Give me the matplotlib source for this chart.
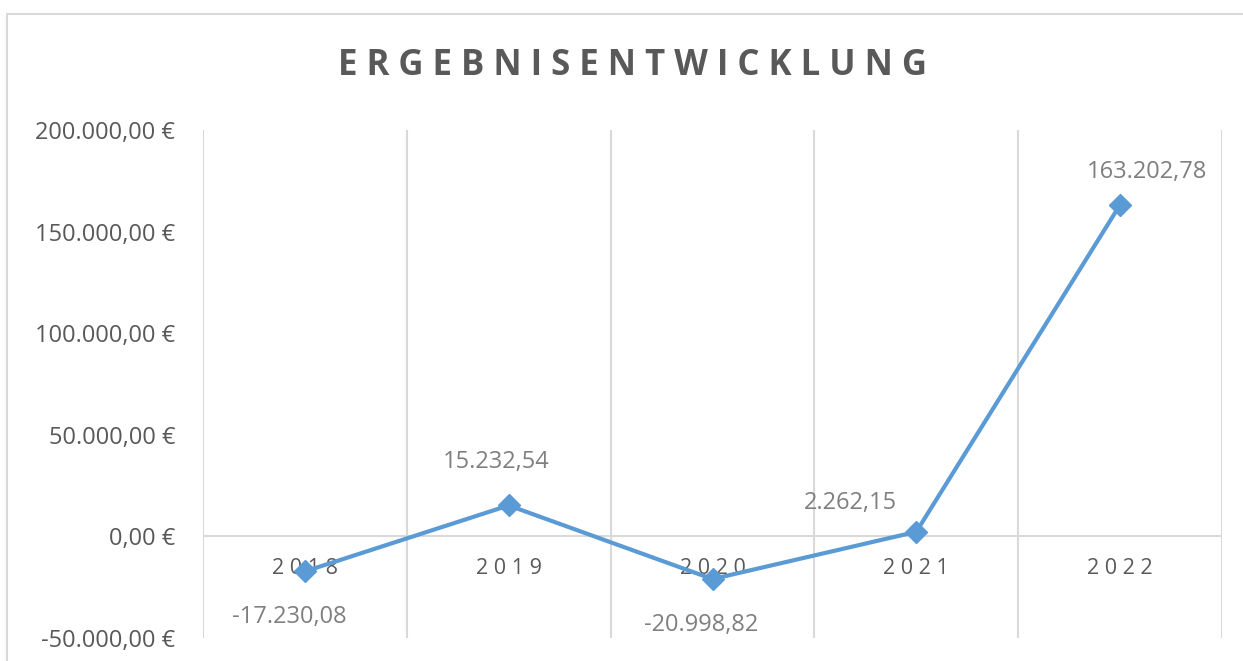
import matplotlib.pyplot as plt
from matplotlib.patches import Rectangle

# Daten
jahre = ["2018", "2019", "2020", "2021", "2022"]
ergebnis = [-17230.08, 15232.54, -20998.82, 2262.15, 163202.78]
y_ticks = [-50000, 0, 50000, 100000, 150000, 200000]

LINIE = "#5B9BD5"
GRAU = "#595959"
LABEL_GRAU = "#7F7F7F"
GITTER = "#D9D9D9"

plt.rcParams['font.family'] = ['Open Sans', 'DejaVu Sans']


def de_zahl(v, euro=False):
    s = f"{v:,.2f}".replace(",", "X").replace(".", ",").replace("X", ".")
    return s + " €" if euro else s


fig = plt.figure(figsize=(12.43, 6.61), dpi=100)
# Diagrammrahmen
fig.patches.append(Rectangle((7 / 1243, -0.05), 1.05, 1 - 14 / 661 + 0.05,
                             transform=fig.transFigure, fill=False,
                             edgecolor=GITTER, linewidth=1.5))

ax = fig.add_axes([203 / 1243, 1 - 638 / 661, 1019 / 1243, 508 / 661])
x = list(range(len(jahre)))
ax.plot(x, ergebnis, color=LINIE, linewidth=3, marker="D", markersize=11, zorder=3)

ax.set_xlim(-0.5, len(jahre) - 0.5)
ax.set_ylim(y_ticks[0], y_ticks[-1])
ax.set_yticks(y_ticks)
ax.set_yticklabels([de_zahl(v, True) for v in y_ticks], fontsize=17, color=GRAU)
ax.tick_params(axis="y", length=0, pad=20)
ax.set_xticks([])

# vertikale Gitterlinien an den Kategoriegrenzen
for g in range(len(jahre) + 1):
    ax.axvline(g - 0.5, color=GITTER, linewidth=1.5, zorder=1)
ax.axhline(0, color=GITTER, linewidth=1.5, zorder=1)
for s in ax.spines.values():
    s.set_visible(False)

# Kategorienbeschriftung unter der Nulllinie
for i, j in enumerate(jahre):
    ax.annotate(" ".join(j), (i, 0), xytext=(0, -32), textcoords="offset pixels",
                ha="center", va="center", fontsize=15.5, color=GRAU, zorder=2)

# Datenbeschriftungen (Versatz in Pixeln)
offsets = [(-16, -46, "center"), (-13, 43, "center"), (-11, -46, "center"),
           (-19, 29, "right"), (27, 33, "center")]
for i, v in enumerate(ergebnis):
    dx, dy, ha = offsets[i]
    ax.annotate(de_zahl(v), (i, v), xytext=(dx, dy), textcoords="offset pixels",
                ha=ha, va="center", fontsize=17, color=LABEL_GRAU)

fig.text(632 / 1243, 1 - 66 / 661, " ".join("ERGEBNISENTWICKLUNG"), ha="center", va="center",
         fontsize=25, fontweight="bold", color=GRAU)

fig.savefig("out.png", dpi=100)
